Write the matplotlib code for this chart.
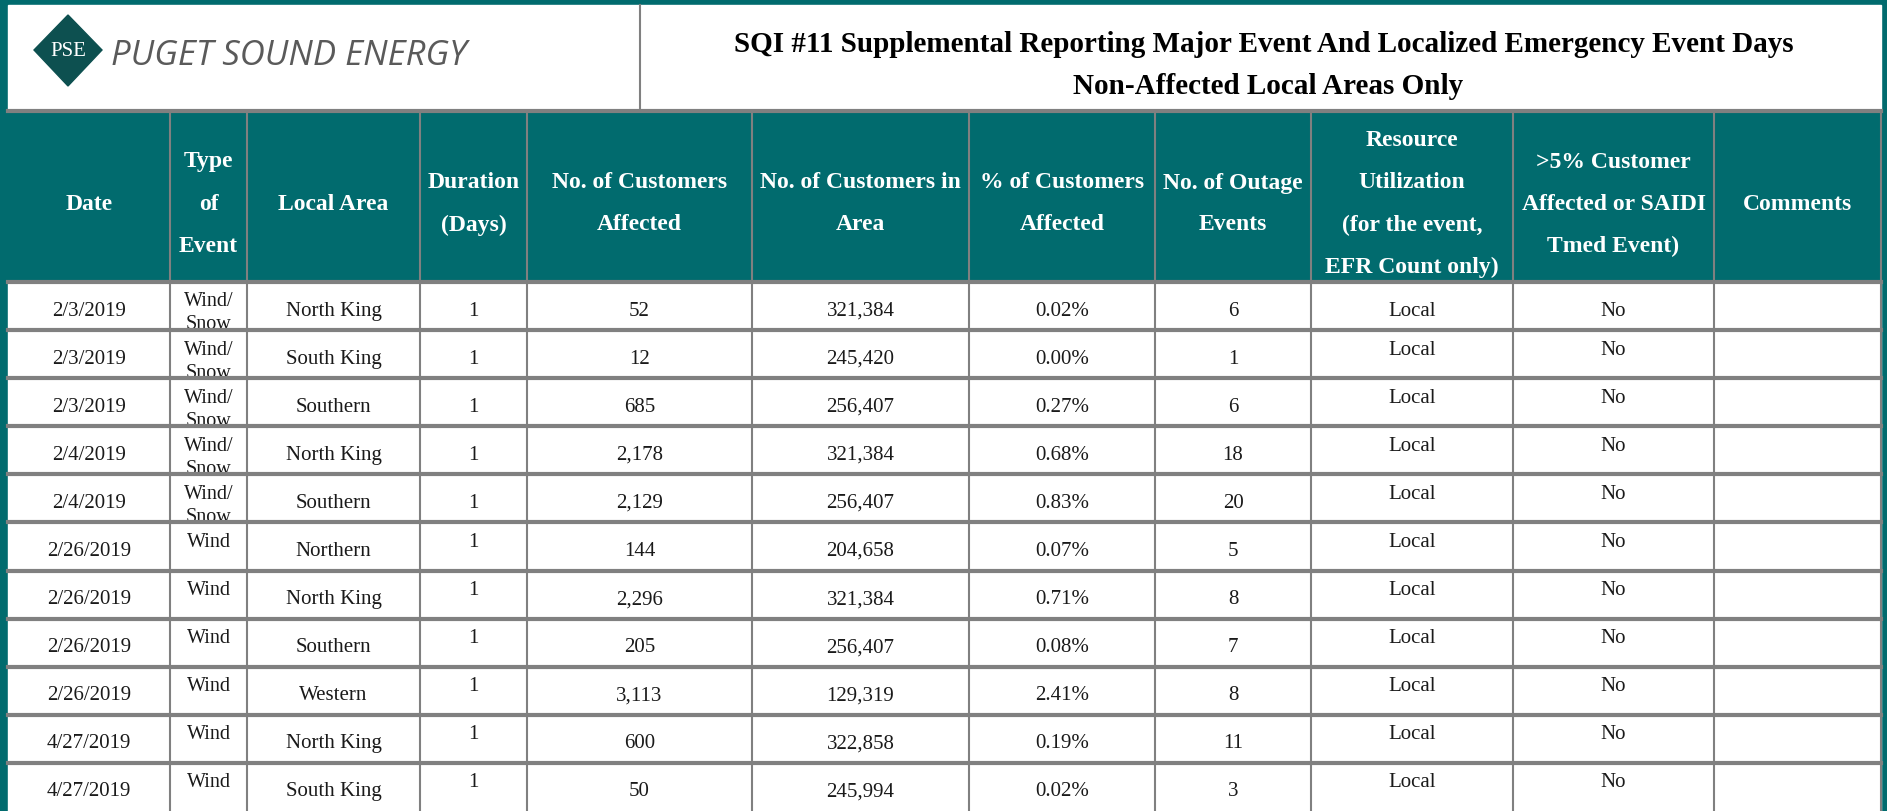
import matplotlib.pyplot as plt
from matplotlib.patches import Rectangle, Polygon

# table data
dates = ["2/3/2019", "2/3/2019", "2/3/2019", "2/4/2019", "2/4/2019", "2/26/2019",
         "2/26/2019", "2/26/2019", "2/26/2019", "4/27/2019", "4/27/2019"]
event_types = ["Wind/\nSnow", "Wind/\nSnow", "Wind/\nSnow", "Wind/\nSnow", "Wind/\nSnow",
               "Wind", "Wind", "Wind", "Wind", "Wind", "Wind"]
local_areas = ["North King", "South King", "Southern", "North King", "Southern", "Northern",
               "North King", "Southern", "Western", "North King", "South King"]
durations = [1, 1, 1, 1, 1, 1, 1, 1, 1, 1, 1]
customers_affected = [52, 12, 685, 2178, 2129, 144, 2296, 205, 3113, 600, 50]
customers_in_area = [321384, 245420, 256407, 321384, 256407, 204658,
                     321384, 256407, 129319, 322858, 245994]
pct_affected = ["0.02%", "0.00%", "0.27%", "0.68%", "0.83%", "0.07%",
                "0.71%", "0.08%", "2.41%", "0.19%", "0.02%"]
outage_events = [6, 1, 6, 18, 20, 5, 8, 7, 8, 11, 3]
resource_util = ["Local"] * 11
over_5pct = ["No"] * 11
comments = [""] * 11

headers = ["Date", "Type\nof\nEvent", "Local Area", "Duration\n(Days)",
           "No. of Customers\nAffected", "No. of Customers in\nArea",
           "% of Customers\nAffected", "No. of Outage\nEvents",
           "Resource\nUtilization\n(for the event,\nEFR Count only)",
           ">5% Customer\nAffected or SAIDI\nTmed Event)", "Comments"]
title_lines = ["SQI #11 Supplemental Reporting Major Event And Localized Emergency Event Days",
               "Non-Affected Local Areas Only"]

W, H = 1887, 812
TEAL = "#016b6e"
GRID = "#808080"
SERIF = "Liberation Serif"

col_x = [8, 170, 247, 420, 527, 752, 969, 1155, 1311, 1513, 1714, 1881]
head_top, head_bot = 112, 283
row_h = (H - head_bot) / len(dates)

fig = plt.figure(figsize=(W / 100, H / 100), dpi=100)
ax = fig.add_axes([0, 0, 1, 1])
ax.set_xlim(0, W)
ax.set_ylim(H, 0)
ax.axis("off")

# outer teal frame + white areas
ax.add_patch(Rectangle((0, 0), W, H, color=TEAL, zorder=0))
ax.add_patch(Rectangle((8, 6), 1873, head_top - 6, color="white", zorder=1))
ax.add_patch(Rectangle((8, head_bot), 1873, H - head_bot, color="white", zorder=1))

# logo
ax.add_patch(Polygon([(68, 16), (102, 51), (68, 87), (34, 51)], closed=True,
                     color="#0d5050", zorder=2))
ax.text(68, 52, "PSE", color="white", fontsize=15, family=SERIF, ha="center",
        va="center", zorder=3)
ax.text(111, 56, "PUGET SOUND ENERGY", color="#5a5a5a", fontsize=25,
        family="Open Sans", style="italic", ha="left", va="center", zorder=3)
ax.plot([640, 640], [6, head_top], color=GRID, lw=1.5, zorder=3)

# title
ax.text(1264, 44, title_lines[0], fontsize=21, family=SERIF, weight="bold",
        ha="center", va="center", zorder=3)
ax.text(1268, 86, title_lines[1], fontsize=21, family=SERIF, weight="bold",
        ha="center", va="center", zorder=3)

# header text
for i, h in enumerate(headers):
    cx = (col_x[i] + col_x[i + 1]) / 2
    lines = h.split("\n")
    n = len(lines)
    for k, ln in enumerate(lines):
        y = 204 + (k - (n - 1) / 2) * 42
        ax.text(cx, y, ln, color="white", fontsize=17, family=SERIF,
                weight="bold", ha="center", va="center", zorder=3)

# body
for r in range(len(dates)):
    top = head_bot + r * row_h
    mid = top + row_h / 2 + 4
    upper = top + 19
    vals = [dates[r], None, local_areas[r], str(durations[r]),
            f"{customers_affected[r]:,}", f"{customers_in_area[r]:,}",
            pct_affected[r], str(outage_events[r]), resource_util[r],
            over_5pct[r], comments[r]]
    for c, v in enumerate(vals):
        if v is None:
            continue
        cx = (col_x[c] + col_x[c + 1]) / 2
        y = mid
        if c in (8, 9) and r > 0:
            y = upper
        if c == 3 and event_types[r] == "Wind":
            y = upper
        ax.text(cx, y, v, fontsize=15, family=SERIF, color="#1a1a1a",
                ha="center", va="center", zorder=3)
    # type of event, top aligned
    cx = (col_x[1] + col_x[2]) / 2
    parts = event_types[r].split("\n")
    for k, p in enumerate(parts):
        ax.text(cx, top + 19 + k * 23, p, fontsize=14.5, family=SERIF,
                color="#1a1a1a", ha="center", va="center", zorder=3)

# grid lines
ax.plot([8, 1881], [head_top, head_top], color=GRID, lw=3, zorder=4)
ax.plot([8, 1881], [head_bot, head_bot], color=GRID, lw=3, zorder=4)
for r in range(1, len(dates)):
    y = head_bot + r * row_h
    ax.plot([8, 1881], [y, y], color=GRID, lw=3, zorder=4)
for x in col_x[1:-1]:
    ax.plot([x, x], [head_top, H], color=GRID, lw=1.5, zorder=4)
ax.plot([1881, 1881], [head_top, H], color=GRID, lw=1.5, zorder=4)

fig.savefig("out.png", dpi=100)
